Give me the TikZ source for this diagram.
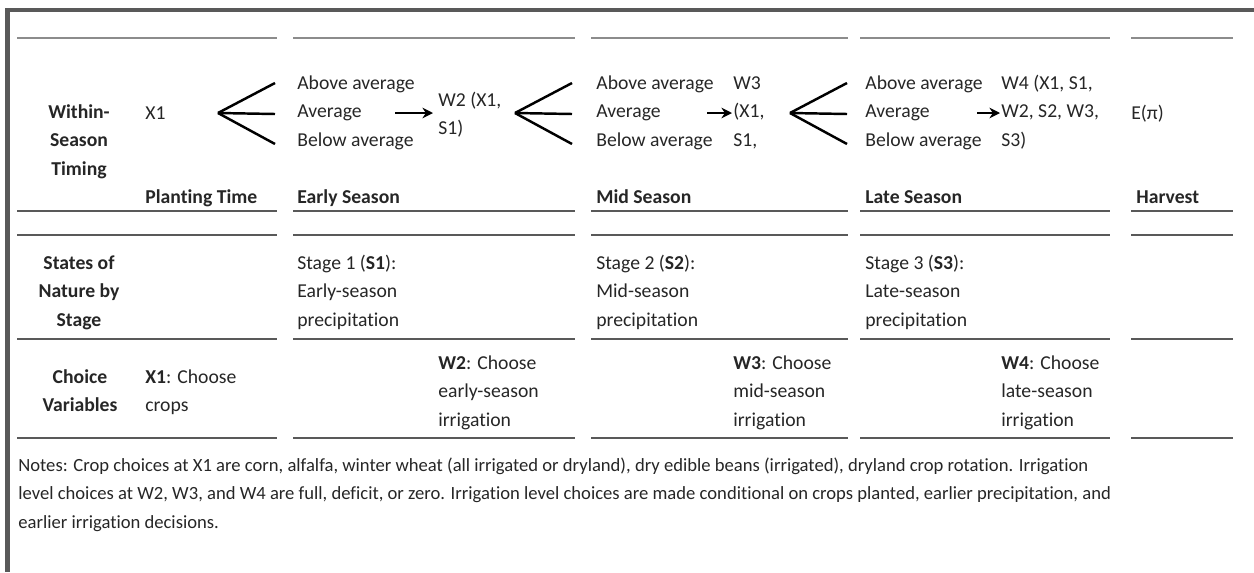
\documentclass[tikz,border=0pt]{standalone}
\usepackage{fontspec}
\setmainfont{Carlito}[Ligatures={NoCommon}]
\usetikzlibrary{arrows.meta}

\newcommand\tabfont{\fontsize{11.2}{16.4}\selectfont}
\newcommand\notefont{\fontsize{10.6}{16.4}\selectfont}
\tikzset{
  rule/.style={line width=1.1pt, draw=black!65},
  lightrule/.style={line width=0.8pt, draw=black!45},
  txt/.style={anchor=base west, inner sep=0pt, text=black!85},
  rowhead/.style={anchor=base, inner sep=0pt, text=black!85, font=\tabfont\bfseries},
  fan/.style={line width=1.4pt},
  go/.style={line width=1.5pt, -{Stealth[length=6pt,width=6pt]}},
}

\begin{document}
\begin{tikzpicture}[x=0.02cm, y=-0.02cm]
  \tikzstyle{every node}=[font=\tabfont]
  \useasboundingbox (0,0) rectangle (1254,572);

  % Frame
  \fill[black!65] (5,8) rectangle (1254,12);
  \fill[black!65] (5,8) rectangle (10,572);

  % Rules
  \foreach \a/\b in {17/277, 293/575, 591/848, 860/1110, 1131/1233} {
    \draw[lightrule] (\a,38) -- (\b,38);
    \draw[rule] (\a,211) -- (\b,211);
    \draw[rule] (\a,235) -- (\b,235);
    \draw[rule] (\a,339) -- (\b,339);
    \draw[rule] (\a,438) -- (\b,438);
  }

  % Row heads
  \node (timing) [rowhead] at (79,118)
        {\tabular[t]{@{}c@{}} Within-\\ Season\\ Timing \endtabular};
  \node (nature) [rowhead] at (79,269)
        {\tabular[t]{@{}c@{}} States of\\ Nature by\\ Stage \endtabular};
  \node (choice) [rowhead] at (80,383)
        {\tabular[t]{@{}c@{}} Choice\\ Variables \endtabular};

  % Timing row
  \node (x1) [txt] at (145,119) {X1};
  \node (state1) [txt] at (297,89)
        {\tabular[t]{@{}l@{}} Above average\\ Average\\ Below average \endtabular};
  \node (w2) [txt] at (438,106)
        {\tabular[t]{@{}l@{}} W2 (X1,\\ S1) \endtabular};
  \node (state2) [txt] at (596,89)
        {\tabular[t]{@{}l@{}} Above average\\ Average\\ Below average \endtabular};
  \node (w3) [txt] at (733,89)
        {\tabular[t]{@{}l@{}} W3\\ (X1,\\ S1, \endtabular};
  \node (state3) [txt] at (865,89)
        {\tabular[t]{@{}l@{}} Above average\\ Average\\ Below average \endtabular};
  \node (w4) [txt] at (1001,89)
        {\tabular[t]{@{}l@{}} W4 (X1, S1,\\ W2, S2, W3,\\ S3) \endtabular};
  \node (profit) [txt] at (1131,119) {E(π)};

  % Season heads
  \node (planting) [txt, font=\tabfont\bfseries] at (145,203) {Planting Time};
  \node (early) [txt, font=\tabfont\bfseries] at (297,203) {Early Season};
  \node (mid) [txt, font=\tabfont\bfseries] at (596,203) {Mid Season};
  \node (late) [txt, font=\tabfont\bfseries] at (865,203) {Late Season};
  \node (harvest) [txt, font=\tabfont\bfseries] at (1136,203) {Harvest};

  % States of nature
  \node (stage1) [txt] at (297,269)
        {\tabular[t]{@{}l@{}} Stage 1 (\textbf{S1}):\\ Early-season\\ precipitation \endtabular};
  \node (stage2) [txt] at (596,269)
        {\tabular[t]{@{}l@{}} Stage 2 (\textbf{S2}):\\ Mid-season\\ precipitation \endtabular};
  \node (stage3) [txt] at (865,269)
        {\tabular[t]{@{}l@{}} Stage 3 (\textbf{S3}):\\ Late-season\\ precipitation \endtabular};

  % Choice variables
  \node (crops) [txt] at (145,383)
        {\tabular[t]{@{}l@{}} \textbf{X1}: Choose\\ crops \endtabular};
  \node (irr1) [txt] at (438,369)
        {\tabular[t]{@{}l@{}} \textbf{W2}: Choose\\ early-season\\ irrigation \endtabular};
  \node (irr2) [txt] at (733,369)
        {\tabular[t]{@{}l@{}} \textbf{W3}: Choose\\ mid-season\\ irrigation \endtabular};
  \node (irr3) [txt] at (1001,369)
        {\tabular[t]{@{}l@{}} \textbf{W4}: Choose\\ late-season\\ irrigation \endtabular};

  % Notes
  \node (notes) [txt, font=\notefont] at (18,471)
        {\tabular[t]{@{}l@{}} Notes: Crop choices at X1 are corn, alfalfa, winter wheat (all irrigated or dryland), dry edible beans (irrigated), dryland crop rotation. Irrigation\\
         level choices at W2, W3, and W4 are full, deficit, or zero. Irrigation level choices are made conditional on crops planted, earlier precipitation, and\\
         earlier irrigation decisions. \endtabular};

  % Fans
  \foreach \i/\ax in {1/218, 2/515, 3/790} {
    \coordinate (fan\i) at (\ax,113);
    \foreach \dy [count=\k] in {-30,1,31} {
      \coordinate (fan\i-\k) at (\ax+57,113+\dy);
      \draw[fan] (fan\i) -- (fan\i-\k);
    }
  }

  % Arrows
  \coordinate (go1a) at (395,113); \coordinate (go1b) at (433,113);
  \coordinate (go2a) at (707,113); \coordinate (go2b) at (732,113);
  \coordinate (go3a) at (977,113); \coordinate (go3b) at (1000,113);
  \draw[go] (go1a) to (go1b);
  \draw[go] (go2a) to (go2b);
  \draw[go] (go3a) to (go3b);
\end{tikzpicture}
\end{document}
